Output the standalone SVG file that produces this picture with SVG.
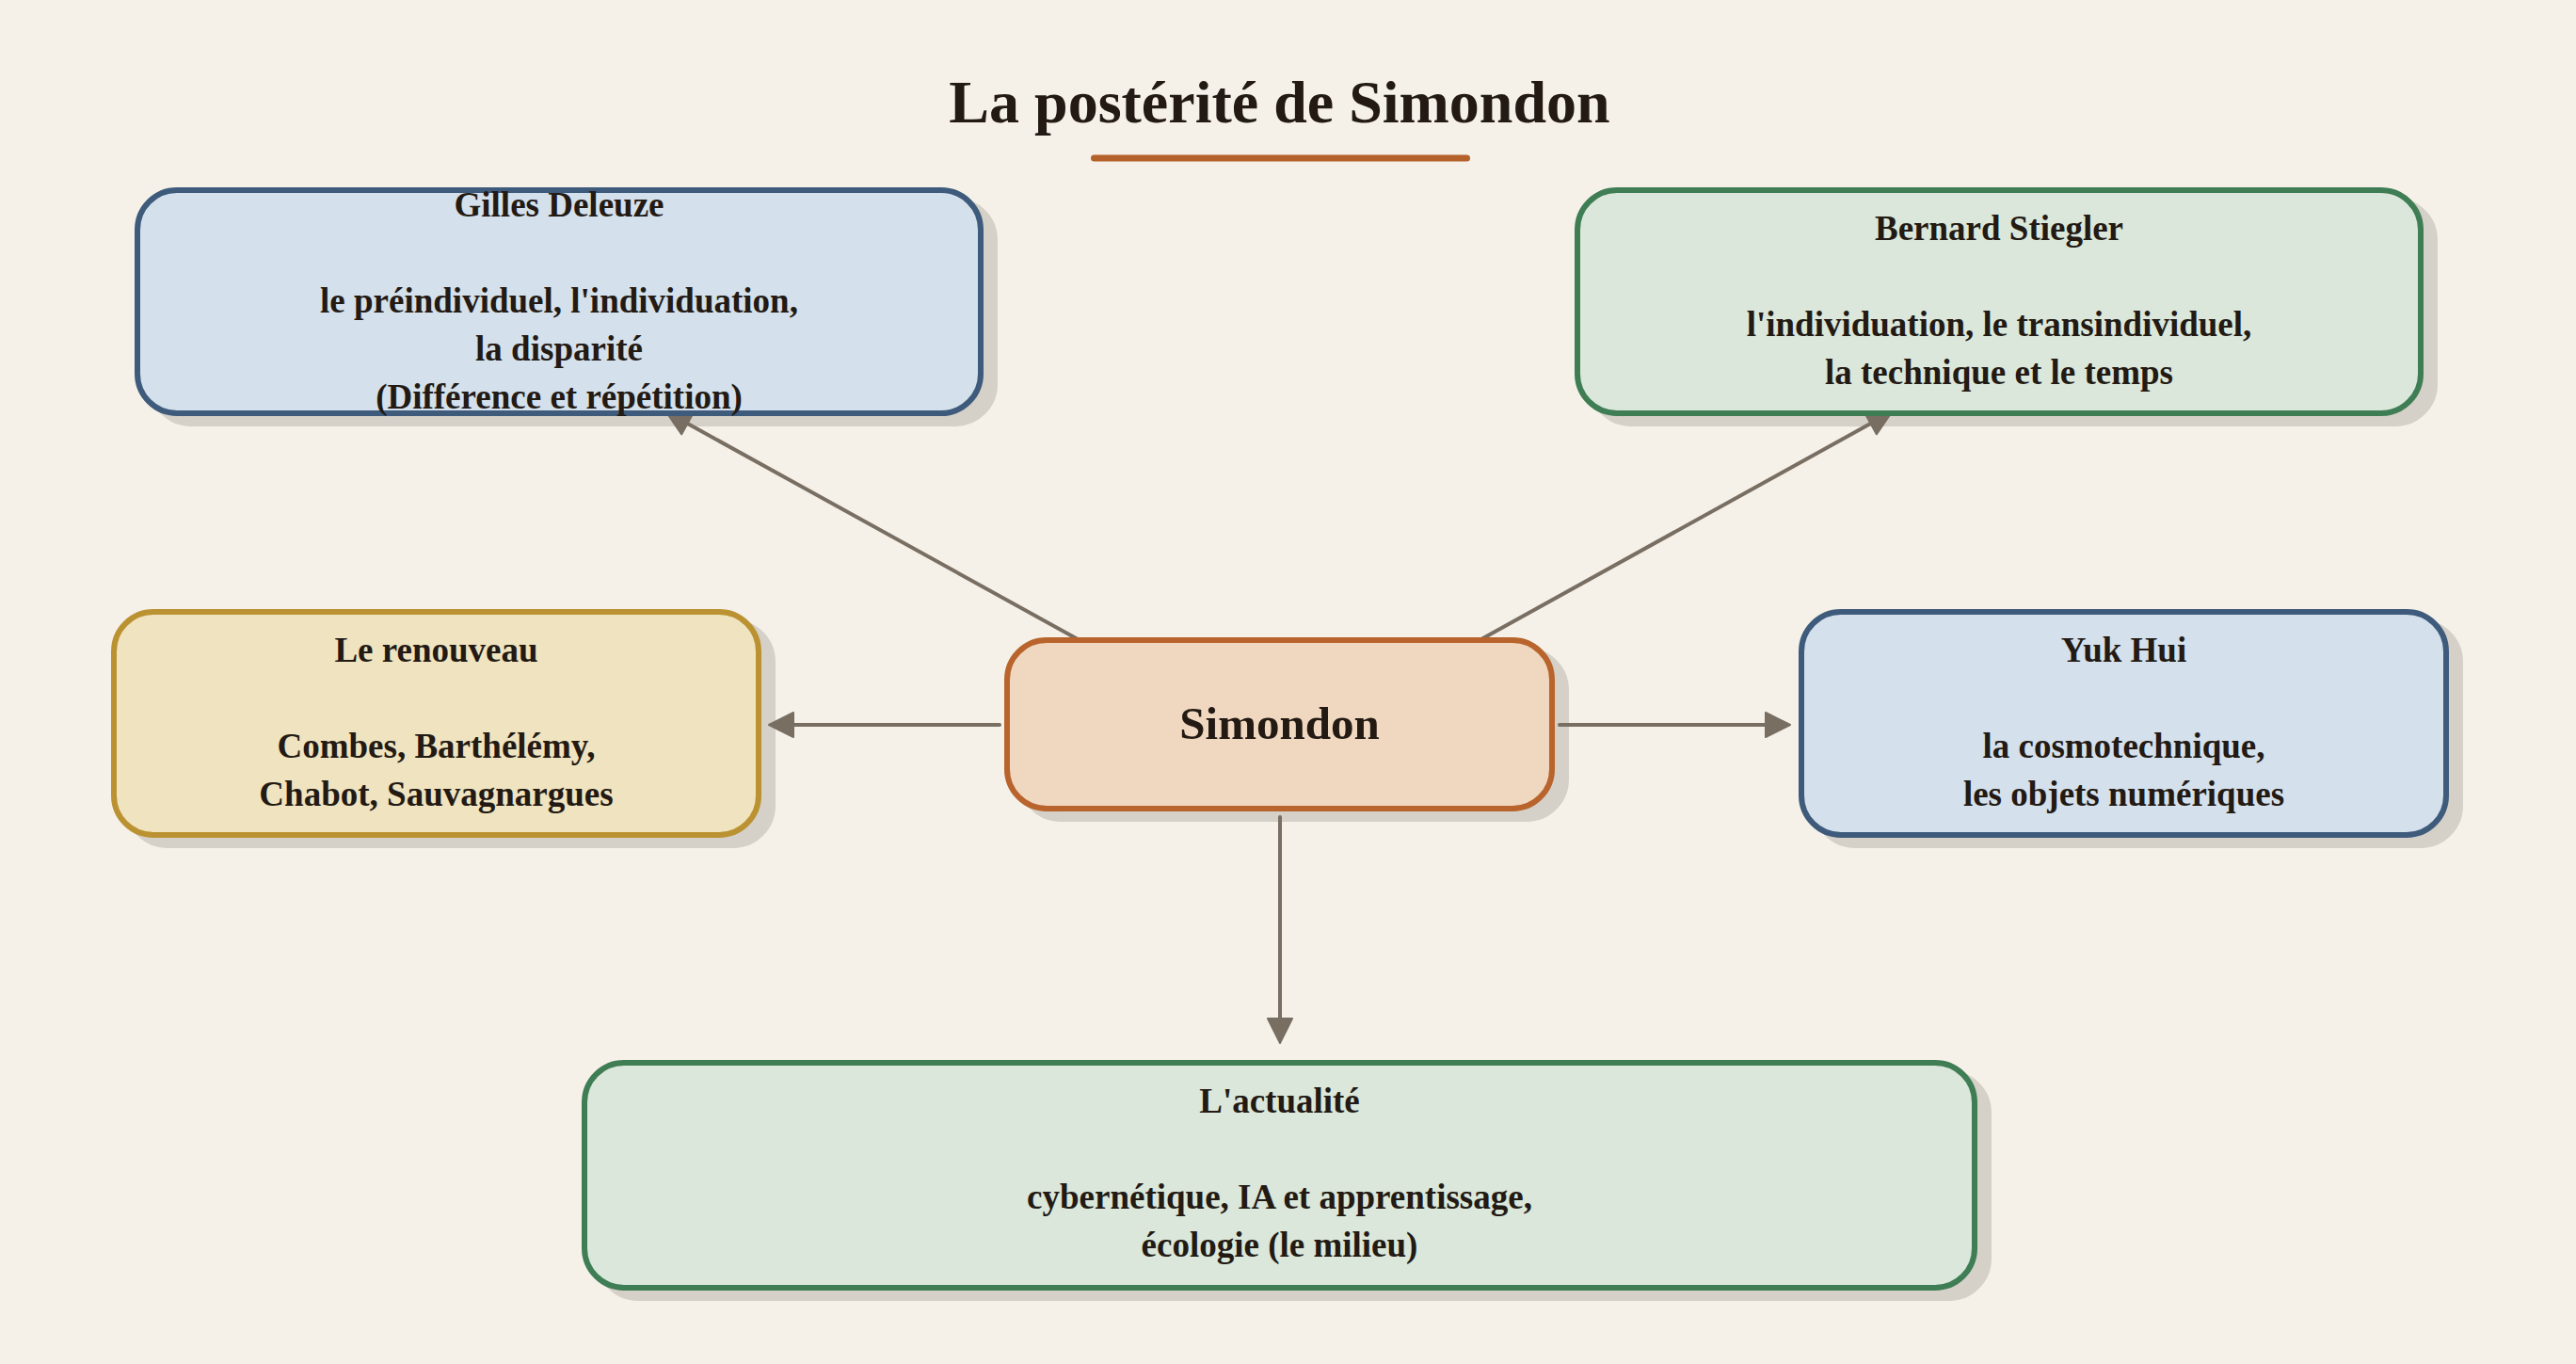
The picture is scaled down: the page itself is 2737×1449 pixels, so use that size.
<svg xmlns="http://www.w3.org/2000/svg" width="2737" height="1449" viewBox="0 0 2737 1449">
<defs>
<style>
.bg{fill:#f5f1e9}
.shadow{fill:#d5d0c8;stroke:#d5d0c8;stroke-width:6}
.box{stroke-width:6}
.blue{fill:#d4e0eb;stroke:#3e5b7c}
.green{fill:#dae7da;stroke:#3f7d55}
.gold{fill:#f0e3bf;stroke:#bb9232}
.orange{fill:#f0d7bf;stroke:#b8642c}
text{font-family:"Liberation Serif","DejaVu Serif",serif;font-weight:bold;fill:#231a14;text-anchor:middle}
.t{font-size:37px}
.big{font-size:49px}
.title{font-size:64px}
.edge{stroke:#786e62;stroke-width:4;stroke-linecap:round;fill:none;marker-end:url(#arrow)}
</style>
<marker id="arrow" markerUnits="userSpaceOnUse" markerWidth="30" markerHeight="30" refX="4" refY="13" orient="auto" viewBox="-2 -2 30 30">
<path d="M0,0 L26,13 L0,26 z" fill="#786e62" stroke="#786e62" stroke-width="2" stroke-linejoin="round"/>
</marker>
</defs>
<rect class="bg" x="0" y="0" width="2737" height="1449"/>
<g id="title">
<text class="title" x="1359.5" y="130">La postérité de Simondon</text>
<line x1="1162.5" y1="168" x2="1558.5" y2="168" stroke="#b5612a" stroke-width="7" stroke-linecap="round"/>
</g>
<g id="shadows">
<rect class="shadow" x="161" y="213" width="896" height="237" rx="42"/>
<rect class="shadow" x="1691" y="213" width="896" height="237" rx="42"/>
<rect class="shadow" x="136" y="661" width="685" height="237" rx="42"/>
<rect class="shadow" x="1929" y="661" width="685" height="237" rx="42"/>
<rect class="shadow" x="1085" y="691" width="579" height="179" rx="42"/>
<rect class="shadow" x="636" y="1140" width="1477" height="239" rx="42"/>
</g>
<g id="connectors">
<line class="edge" x1="1145" y1="679" x2="727" y2="448"/>
<line class="edge" x1="1574" y1="679" x2="1991" y2="448"/>
<line class="edge" x1="1062" y1="770" x2="839" y2="770"/>
<line class="edge" x1="1657" y1="770" x2="1880" y2="770"/>
<line class="edge" x1="1360" y1="868" x2="1360" y2="1086"/>
</g>
<g id="node-deleuze">
<rect class="box blue" x="146" y="202" width="896" height="237" rx="42"/>
<text class="t" x="594" y="230">Gilles Deleuze</text>
<text class="t" x="594" y="332">le préindividuel, l'individuation,</text>
<text class="t" x="594" y="383">la disparité</text>
<text class="t" x="594" y="434">(Différence et répétition)</text>
</g>
<g id="node-stiegler">
<rect class="box green" x="1676" y="202" width="896" height="237" rx="42"/>
<text class="t" x="2124" y="255">Bernard Stiegler</text>
<text class="t" x="2124" y="357">l'individuation, le transindividuel,</text>
<text class="t" x="2124" y="408">la technique et le temps</text>
</g>
<g id="node-renouveau">
<rect class="box gold" x="121" y="650" width="685" height="237" rx="42"/>
<text class="t" x="463.5" y="703">Le renouveau</text>
<text class="t" x="463.5" y="805">Combes, Barthélémy,</text>
<text class="t" x="463.5" y="856">Chabot, Sauvagnargues</text>
</g>
<g id="node-yukhui">
<rect class="box blue" x="1914" y="650" width="685" height="237" rx="42"/>
<text class="t" x="2256.5" y="703">Yuk Hui</text>
<text class="t" x="2256.5" y="805">la cosmotechnique,</text>
<text class="t" x="2256.5" y="856">les objets numériques</text>
</g>
<g id="node-simondon">
<rect class="box orange" x="1070" y="680" width="579" height="179" rx="42"/>
<text class="big" x="1359.5" y="785">Simondon</text>
</g>
<g id="node-actualite">
<rect class="box green" x="621" y="1129" width="1477" height="239" rx="42"/>
<text class="t" x="1359.5" y="1182">L'actualité</text>
<text class="t" x="1359.5" y="1284">cybernétique, IA et apprentissage,</text>
<text class="t" x="1359.5" y="1335">écologie (le milieu)</text>
</g>
</svg>
